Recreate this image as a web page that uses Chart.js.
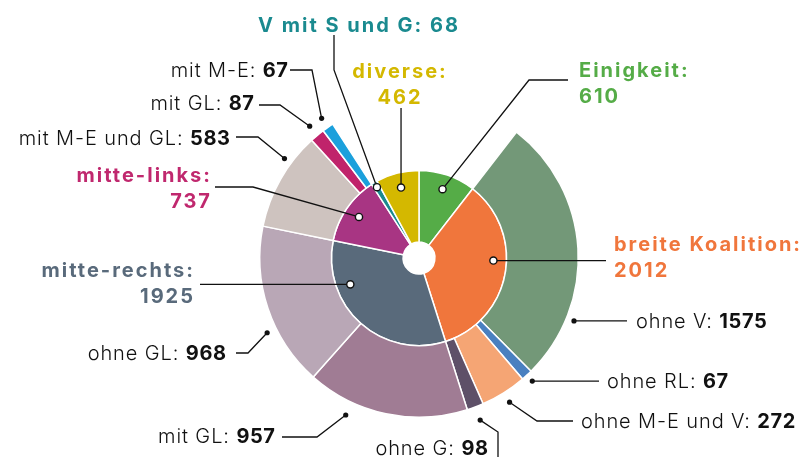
<!DOCTYPE html>
<html>
<head>
<meta charset="utf-8">
<script src="https://cdn.jsdelivr.net/npm/chart.js@4"></script>
<style>
  body { margin: 0; background: #fff; }
  #wrap { width: 802px; height: 457px; }
</style>
</head>
<body>
<div id="wrap"><canvas id="myChart" width="802" height="457"></canvas></div>
<script>
// inner ring: groups
const groups = ['Einigkeit', 'breite Koalition', 'mitte-rechts', 'mitte-links', 'V mit S und G', 'diverse'];
const groupValues = [610, 2012, 1925, 737, 68, 462];
const groupColors = ['#55ac47', '#f0763c', '#596a7b', '#a83583', '#1a8a8f', '#d4b800'];

// outer ring: subgroups, with the index of their group
const subs = ['ohne V', 'ohne RL', 'ohne M-E und V', 'ohne G', 'mit GL', 'ohne GL', 'mit M-E und GL', 'mit GL', 'mit M-E'];
const subValues = [1575, 67, 272, 98, 957, 968, 583, 87, 67];
const subParent = [1, 1, 1, 1, 2, 2, 3, 3, 3];
const subColors = ['#739878', '#4a80c0', '#f5a574', '#5e5068', '#a07c94', '#b9a7b6', '#cec3bf', '#c0236b', '#1ba0dc'];

// build outer dataset; groups with no subgroups leave an empty gap
const outerData = [], outerBg = [], outerBw = [], outerIdx = [];
groups.forEach((g, gi) => {
  let has = false;
  subs.forEach((s, si) => {
    if (subParent[si] === gi) {
      outerIdx[si] = outerData.length;
      outerData.push(subValues[si]);
      outerBg.push(subColors[si]);
      outerBw.push(1.5);
      has = true;
    }
  });
  if (!has) {
    outerData.push(groupValues[gi]);
    outerBg.push('rgba(0,0,0,0)');
    outerBw.push(0);
  }
});

// callouts: ring, index, position along arc (t), radius, leader path, text
const callouts = [
  { ring: 1, i: 0, t: 0.5, r: 0.83, path: [[529, 80], [568, 80]], lines: ['Einigkeit:', '610'], x: 579, y: 77, align: 'left' },
  { ring: 1, i: 1, t: 0.435, r: 0.85, path: [[606, 254]], lines: ['breite Koalition:', '2012'], x: 614, y: 251, align: 'left', flat: true },
  { ring: 1, i: 2, t: 0.727, r: 0.84, path: [[200, 283]], lines: ['mitte-rechts:', '1925'], x: 193, y: 277, align: 'right', flat: true },
  { ring: 1, i: 3, t: 0.5, r: 0.83, path: [[253, 187], [215, 187]], lines: ['mitte-links:', '737'], x: 210, y: 182, align: 'right', color: '#c0286e' },
  { ring: 1, i: 4, t: 0.5, r: 0.94, path: [[334, 70], [334, 35]], lines: ['V mit S und G: 68'], x: 358, y: 32, align: 'center' },
  { ring: 1, i: 5, t: 0.5, r: 0.83, path: [[402, 108]], lines: ['diverse:', '462'], x: 399, y: 78, align: 'center', vert: true },
  { ring: 0, s: 0, t: 0.762, d: 8, path: [[627, 320]], x: 636, y: 328, align: 'left', flat: true },
  { ring: 0, s: 1, t: 0.5, d: 8, path: [[599, 380]], x: 607, y: 388, align: 'left', flat: true },
  { ring: 0, s: 2, t: 0.5, d: 11, path: [[537, 421], [573, 421]], x: 581, y: 428, align: 'left' },
  { ring: 0, s: 3, t: 0.5, d: 14, path: [[498, 432], [498, 457]], x: 488, y: 455, align: 'right' },
  { ring: 0, s: 4, t: 0.72, d: 14, path: [[317, 437], [282, 437]], x: 275, y: 443, align: 'right' },
  { ring: 0, s: 5, t: 0.37, d: 10, path: [[248, 353], [236, 353]], x: 226, y: 360, align: 'right' },
  { ring: 0, s: 6, t: 0.69, d: 8, path: [[258, 137], [236, 137]], x: 230, y: 145, align: 'right' },
  { ring: 0, s: 7, t: 0.5, d: 12, path: [[280, 105], [259, 105]], x: 254, y: 110, align: 'right' },
  { ring: 0, s: 8, t: 0.5, d: 11, path: [[312, 70], [290, 70]], x: 288, y: 77, align: 'right' }
];

const FONT = 'Inter, "Liberation Sans", sans-serif';
const REG = '300 20px ' + FONT;
const BOLD = 'bold 20px ' + FONT;
const HEAD_LS = 2;

const calloutPlugin = {
  id: 'callouts',
  afterDraw(chart) {
    const ctx = chart.ctx;
    ctx.save();
    callouts.forEach(c => {
      const idx = c.ring === 1 ? c.i : outerIdx[c.s];
      const arc = chart.getDatasetMeta(c.ring).data[idx];
      const p = arc.getProps(['x', 'y', 'startAngle', 'endAngle', 'innerRadius', 'outerRadius'], true);
      const a = p.startAngle + c.t * (p.endAngle - p.startAngle);
      const r = c.ring === 1 ? p.outerRadius * c.r : p.outerRadius + c.d;
      const dx = p.x + Math.cos(a) * r;
      const dy = p.y + Math.sin(a) * r;

      // leader line
      const pts = c.path.map(q => q.slice());
      if (c.flat) pts.forEach(q => { q[1] = dy; });
      if (c.vert) pts.forEach(q => { q[0] = dx; });
      ctx.strokeStyle = '#111';
      ctx.lineWidth = 1.3;
      ctx.beginPath();
      ctx.moveTo(dx, dy);
      pts.forEach(q => ctx.lineTo(q[0], q[1]));
      ctx.stroke();

      // dot
      ctx.beginPath();
      if (c.ring === 1) {
        ctx.arc(dx, dy, 3.6, 0, Math.PI * 2);
        ctx.fillStyle = '#fff';
        ctx.fill();
        ctx.lineWidth = 1.4;
        ctx.stroke();
      } else {
        ctx.arc(dx, dy, 2.6, 0, Math.PI * 2);
        ctx.fillStyle = '#111';
        ctx.fill();
      }

      // text
      ctx.textBaseline = 'alphabetic';
      if (c.ring === 1) {
        ctx.font = BOLD;
        ctx.letterSpacing = HEAD_LS + 'px';
        ctx.fillStyle = c.color || groupColors[c.i];
        ctx.textAlign = c.align;
        const shift = c.align === 'right' ? HEAD_LS : c.align === 'center' ? HEAD_LS / 2 : 0;
        c.lines.forEach((ln, k) => ctx.fillText(ln, c.x + shift, c.y + k * 26));
      } else {
        const name = subs[c.s] + ': ';
        const val = String(subValues[c.s]);
        ctx.font = REG;
        ctx.letterSpacing = '0.9px';
        const w1 = ctx.measureText(name).width;
        ctx.font = BOLD;
        ctx.letterSpacing = '0.6px';
        const w2 = ctx.measureText(val).width - 0.6;
        const x0 = c.align === 'left' ? c.x : c.x - w1 - w2;
        ctx.textAlign = 'left';
        ctx.fillStyle = '#111';
        ctx.font = REG;
        ctx.letterSpacing = '0.9px';
        ctx.fillText(name, x0, c.y);
        ctx.font = BOLD;
        ctx.letterSpacing = '0.6px';
        ctx.fillText(val, x0 + w1, c.y);
      }
    });
    ctx.restore();
  }
};

const config = {
  type: 'doughnut',
  data: {
    labels: groups,
    datasets: [
      { data: outerData, backgroundColor: outerBg, borderColor: '#fff', borderWidth: outerBw },
      { data: groupValues, backgroundColor: groupColors, borderColor: '#fff', borderWidth: 1.5 }
    ]
  },
  options: {
    responsive: false,
    animation: false,
    events: [],
    cutout: '10%',
    layout: { padding: { left: 259, right: 223, top: 98, bottom: 39 } },
    plugins: { legend: { display: false }, tooltip: { enabled: false } }
  },
  plugins: [calloutPlugin]
};

var myChart = new Chart(document.getElementById('myChart'), config);
</script>
</body>
</html>
